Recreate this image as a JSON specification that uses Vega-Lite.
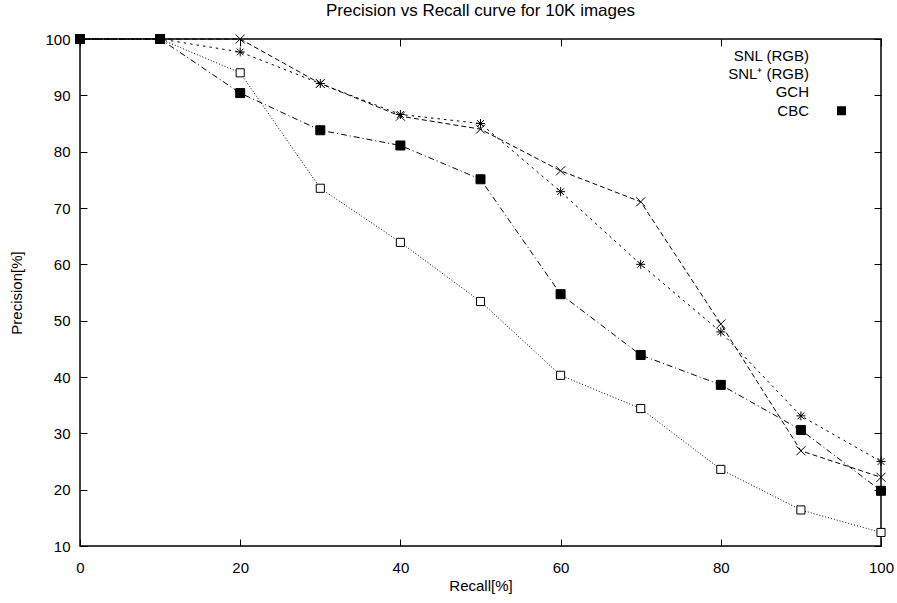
{
  "$schema": "https://vega.github.io/schema/vega-lite/v6.json",
  "autosize": {"type": "none"},
  "padding": {"left": 80, "top": 39, "right": 16, "bottom": 57},
  "width": 801,
  "height": 507,
  "background": "white",
  "title": {
    "text": "Precision vs Recall curve for 10K images",
    "font": "Liberation Sans",
    "fontSize": 17,
    "fontWeight": "normal",
    "color": "black",
    "anchor": "middle",
    "offset": 12
  },
  "config": {
    "view": {"stroke": "black", "strokeWidth": 1.5},
    "axis": {
      "grid": false,
      "domain": false,
      "tickColor": "black",
      "tickWidth": 1,
      "tickSize": 7,
      "offset": -7,
      "labelFlush": false,
      "labelFont": "Liberation Sans",
      "labelFontSize": 15,
      "labelColor": "black",
      "titleFont": "Liberation Sans",
      "titleFontSize": 15,
      "titleFontWeight": "normal",
      "titleColor": "black"
    }
  },
  "data": {
    "values": [
      {"series": "SNL (RGB)", "recall": 0, "precision": 100},
      {"series": "SNL (RGB)", "recall": 10, "precision": 100},
      {"series": "SNL (RGB)", "recall": 20, "precision": 100},
      {"series": "SNL (RGB)", "recall": 30, "precision": 92.1},
      {"series": "SNL (RGB)", "recall": 40, "precision": 86.3},
      {"series": "SNL (RGB)", "recall": 50, "precision": 84.0},
      {"series": "SNL (RGB)", "recall": 60, "precision": 76.6},
      {"series": "SNL (RGB)", "recall": 70, "precision": 71.1},
      {"series": "SNL (RGB)", "recall": 80, "precision": 49.4},
      {"series": "SNL (RGB)", "recall": 90, "precision": 26.9},
      {"series": "SNL (RGB)", "recall": 100, "precision": 22.2},
      {"series": "SNL⁺ (RGB)", "recall": 0, "precision": 100},
      {"series": "SNL⁺ (RGB)", "recall": 10, "precision": 100},
      {"series": "SNL⁺ (RGB)", "recall": 20, "precision": 97.7},
      {"series": "SNL⁺ (RGB)", "recall": 30, "precision": 92.1},
      {"series": "SNL⁺ (RGB)", "recall": 40, "precision": 86.6},
      {"series": "SNL⁺ (RGB)", "recall": 50, "precision": 85.0},
      {"series": "SNL⁺ (RGB)", "recall": 60, "precision": 72.9},
      {"series": "SNL⁺ (RGB)", "recall": 70, "precision": 60.0},
      {"series": "SNL⁺ (RGB)", "recall": 80, "precision": 48.0},
      {"series": "SNL⁺ (RGB)", "recall": 90, "precision": 33.1},
      {"series": "SNL⁺ (RGB)", "recall": 100, "precision": 25.0},
      {"series": "GCH", "recall": 0, "precision": 100},
      {"series": "GCH", "recall": 10, "precision": 100},
      {"series": "GCH", "recall": 20, "precision": 94.0},
      {"series": "GCH", "recall": 30, "precision": 73.5},
      {"series": "GCH", "recall": 40, "precision": 63.9},
      {"series": "GCH", "recall": 50, "precision": 53.4},
      {"series": "GCH", "recall": 60, "precision": 40.3},
      {"series": "GCH", "recall": 70, "precision": 34.4},
      {"series": "GCH", "recall": 80, "precision": 23.6},
      {"series": "GCH", "recall": 90, "precision": 16.4},
      {"series": "GCH", "recall": 100, "precision": 12.4},
      {"series": "CBC", "recall": 0, "precision": 100},
      {"series": "CBC", "recall": 10, "precision": 100},
      {"series": "CBC", "recall": 20, "precision": 90.4},
      {"series": "CBC", "recall": 30, "precision": 83.8},
      {"series": "CBC", "recall": 40, "precision": 81.1},
      {"series": "CBC", "recall": 50, "precision": 75.1},
      {"series": "CBC", "recall": 60, "precision": 54.7},
      {"series": "CBC", "recall": 70, "precision": 43.9},
      {"series": "CBC", "recall": 80, "precision": 38.6},
      {"series": "CBC", "recall": 90, "precision": 30.6},
      {"series": "CBC", "recall": 100, "precision": 19.8}
    ]
  },
  "layer": [
    {
      "mark": {"type": "line", "stroke": "black", "strokeWidth": 1},
      "encoding": {
        "x": {
          "field": "recall", "type": "quantitative",
          "scale": {"domain": [0, 100], "nice": false, "zero": false},
          "axis": {"orient": "bottom", "values": [0, 20, 40, 60, 80, 100], "title": "Recall[%]", "labelPadding": 14, "titlePadding": 3}
        },
        "y": {
          "field": "precision", "type": "quantitative",
          "scale": {"domain": [10, 100], "nice": false, "zero": false},
          "axis": {"orient": "left", "values": [10, 20, 30, 40, 50, 60, 70, 80, 90, 100], "title": "Precision[%]", "labelPadding": 10, "titlePadding": 20}
        },
        "strokeDash": {
          "field": "series", "type": "nominal",
          "scale": {
            "domain": ["SNL (RGB)", "SNL⁺ (RGB)", "GCH", "CBC"],
            "range": [[5, 3], [2.5, 4], [1, 2], [6, 3, 1, 3]]
          },
          "legend": null
        },
        "order": {"field": "recall", "type": "quantitative"}
      }
    },
    {
      "mark": {"type": "point", "stroke": "black", "strokeWidth": 1, "opacity": 1, "size": 81},
      "encoding": {
        "x": {
          "field": "recall", "type": "quantitative",
          "axis": {"orient": "top", "values": [0, 20, 40, 60, 80, 100], "labels": false, "title": null}
        },
        "y": {
          "field": "precision", "type": "quantitative",
          "axis": {"orient": "right", "values": [10, 20, 30, 40, 50, 60, 70, 80, 90, 100], "labels": false, "title": null}
        },
        "shape": {
          "field": "series", "type": "nominal",
          "scale": {
            "domain": ["SNL (RGB)", "SNL⁺ (RGB)", "GCH", "CBC"],
            "range": [
              "M-1,-1L1,1M-1,1L1,-1",
              "M-1,0L1,0M0,-1L0,1M-0.75,-0.75L0.75,0.75M-0.75,0.75L0.75,-0.75",
              "M-0.9,-0.9L0.9,-0.9L0.9,0.9L-0.9,0.9Z",
              "M-1,-1L1,-1L1,1L-1,1Z"
            ]
          },
          "legend": null
        },
        "fill": {
          "field": "series", "type": "nominal",
          "scale": {
            "domain": ["SNL (RGB)", "SNL⁺ (RGB)", "GCH", "CBC"],
            "range": ["transparent", "transparent", "white", "black"]
          },
          "legend": null
        }
      }
    },
    {
      "transform": [{"filter": "false"}],
      "mark": {"type": "point", "stroke": "black", "strokeWidth": 1, "opacity": 1, "size": 4},
      "encoding": {
        "shape": {
          "field": "series", "type": "nominal",
          "scale": {
            "domain": ["SNL (RGB)", "SNL⁺ (RGB)", "GCH", "CBC"],
            "range": [
              "M11,0L15,0M18,0L22,0M25,0L29,0M31.5,-4.5L40.5,4.5M31.5,4.5L40.5,-4.5M43,0L47,0M50,0L54,0M57,0L61,0",
              "M12,0L14.5,0M18.5,0L21,0M25,0L27.5,0M31.5,0L40.5,0M36,-4.5L36,4.5M32.6,-3.4L39.4,3.4M32.6,3.4L39.4,-3.4M44.5,0L47,0M51,0L53.5,0M57.5,0L60,0",
              "M11,0L12,0M13,0L14,0M15,0L16,0M17,0L18,0M19,0L20,0M21,0L22,0M23,0L24,0M25,0L26,0M27,0L28,0M29,0L30,0M32,-4L40,-4L40,4L32,4ZM35.5,0L36.5,0M42,0L43,0M44,0L45,0M46,0L47,0M48,0L49,0M50,0L51,0M52,0L53,0M54,0L55,0M56,0L57,0M58,0L59,0M60,0L61,0",
              "M11,0L16,0M18,0L19,0M21,0L26,0M28,0L29,0M31.5,-4.5L40.5,-4.5L40.5,4.5L31.5,4.5ZM43,0L48,0M50,0L51,0M53,0L58,0M60,0L61,0"
            ]
          },
          "legend": {
            "title": null,
            "orient": "none",
            "legendX": 718,
            "legendY": 9,
            "symbolSize": 4,
            "labelAlign": "right",
            "labelOffset": -4,
            "labelFont": "Liberation Sans",
            "labelFontSize": 15,
            "labelColor": "black",
            "labelLimit": 0,
            "rowPadding": 2.4,
            "symbolStrokeColor": "black",
            "symbolStrokeWidth": 1,
            "symbolOpacity": 1
          }
        },
        "fill": {
          "field": "series", "type": "nominal",
          "scale": {
            "domain": ["SNL (RGB)", "SNL⁺ (RGB)", "GCH", "CBC"],
            "range": ["transparent", "transparent", "transparent", "black"]
          },
          "legend": {
            "title": null,
            "orient": "none",
            "legendX": 718,
            "legendY": 9,
            "symbolSize": 4,
            "labelAlign": "right",
            "labelOffset": -4,
            "labelFont": "Liberation Sans",
            "labelFontSize": 15,
            "labelColor": "black",
            "labelLimit": 0,
            "rowPadding": 2.4,
            "symbolStrokeColor": "black",
            "symbolStrokeWidth": 1,
            "symbolOpacity": 1
          }
        }
      }
    }
  ],
  "resolve": {
    "axis": {"x": "independent", "y": "independent"},
    "scale": {"shape": "independent", "fill": "independent"}
  }
}
